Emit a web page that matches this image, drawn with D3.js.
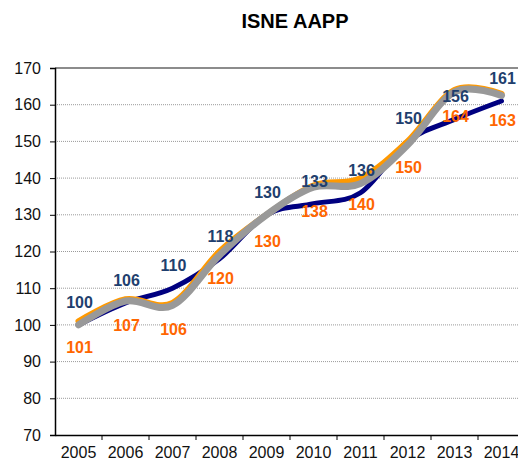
<!DOCTYPE html>
<html>
<head>
<meta charset="utf-8">
<script src="https://cdn.jsdelivr.net/npm/d3@7"></script>
<style>
  body { margin: 0; background: #fff; }
  svg { display: block; font-family: "Liberation Sans", Arial, sans-serif; }
</style>
</head>
<body>
<svg id="chart" width="518" height="461"></svg>
<script>
const years = ["2005","2006","2007","2008","2009","2010","2011","2012","2013","2014"];
const navyValues = [100, 106, 110, 118, 130, 133, 136, 150, 156, 161];
const orangeValues = [101, 107, 106, 120, 130, 138, 140, 150, 164, 163];
const grayValues = [100, 106.5, 105.3, 119, 130, 137.5, 138.5, 149, 163.5, 162.5];
const yTicks = [70, 80, 90, 100, 110, 120, 130, 140, 150, 160, 170];
const title = "ISNE AAPP";

const svg = d3.select("#chart");
const pLeft = 55, pRight = 525, pTop = 68, pBottom = 435;

const x = d3.scaleBand().domain(years).range([pLeft, pRight]).padding(0);
const y = d3.scaleLinear().domain([70, 170]).range([pBottom, pTop]);
const cx = d => x(d) + x.bandwidth() / 2;

// title
svg.append("text").attr("x", 295).attr("y", 28).attr("text-anchor", "middle")
  .attr("font-size", 20).attr("font-weight", "bold").attr("fill", "#000").text(title);

// gridlines
svg.append("g").selectAll("line").data(yTicks.filter(t => t > 70)).join("line")
  .attr("x1", pLeft).attr("x2", 518)
  .attr("y1", d => y(d)).attr("y2", d => y(d))
  .attr("stroke", d => d === 170 ? "#8c8c8c" : "#9a9a9a")
  .attr("stroke-width", d => d === 170 ? 2 : 1)
  .attr("stroke-dasharray", d => d === 170 ? null : "1,1");

// y axis
const yAxis = svg.append("g").attr("transform", `translate(${pLeft},0)`)
  .call(d3.axisLeft(y).tickValues(yTicks).tickSize(5).tickPadding(9));
yAxis.select(".domain").attr("stroke", "#000").attr("stroke-width", 1.5);
yAxis.selectAll(".tick line").attr("stroke", "#000");
yAxis.selectAll("text").attr("font-size", 16).attr("fill", "#111").attr("font-family", "Liberation Sans, Arial, sans-serif");

// x axis
const xAxis = svg.append("g").attr("transform", `translate(0,${pBottom})`)
  .call(d3.axisBottom(x).tickSize(0).tickPadding(12));
xAxis.select(".domain").attr("stroke", "#000").attr("stroke-width", 1.5);
xAxis.selectAll("text").attr("font-size", 16).attr("fill", "#111").attr("font-family", "Liberation Sans, Arial, sans-serif");
// boundary ticks between categories
svg.append("g").selectAll("line").data(years).join("line")
  .attr("x1", d => x(d) + x.bandwidth()).attr("x2", d => x(d) + x.bandwidth())
  .attr("y1", pBottom).attr("y2", pBottom + 5).attr("stroke", "#000");

const line = d3.line().x((d, i) => cx(years[i])).y(d => y(d)).curve(d3.curveCardinal.tension(0));

const series = [
  { values: navyValues, color: "#000080", width: 5 },
  { values: orangeValues, color: "#FF9900", width: 6 },
  { values: grayValues, color: "#999999", width: 7 }
];
svg.append("g").selectAll("path").data(series).join("path")
  .attr("d", s => line(s.values))
  .attr("fill", "none").attr("stroke", s => s.color)
  .attr("stroke-width", s => s.width).attr("stroke-linecap", "round").attr("stroke-linejoin", "round");

// labels
svg.append("g").selectAll("text").data(navyValues).join("text")
  .attr("x", (d, i) => cx(years[i]) + 1).attr("y", d => y(d) - 17)
  .attr("text-anchor", "middle").attr("font-size", 16).attr("font-weight", "bold")
  .attr("fill", "#1F3F6E").text(d => d);
svg.append("g").selectAll("text").data(orangeValues).join("text")
  .attr("x", (d, i) => cx(years[i]) + 1).attr("y", d => y(d) + 32)
  .attr("text-anchor", "middle").attr("font-size", 16).attr("font-weight", "bold")
  .attr("fill", "#FF6600").text(d => d);
</script>
</body>
</html>
